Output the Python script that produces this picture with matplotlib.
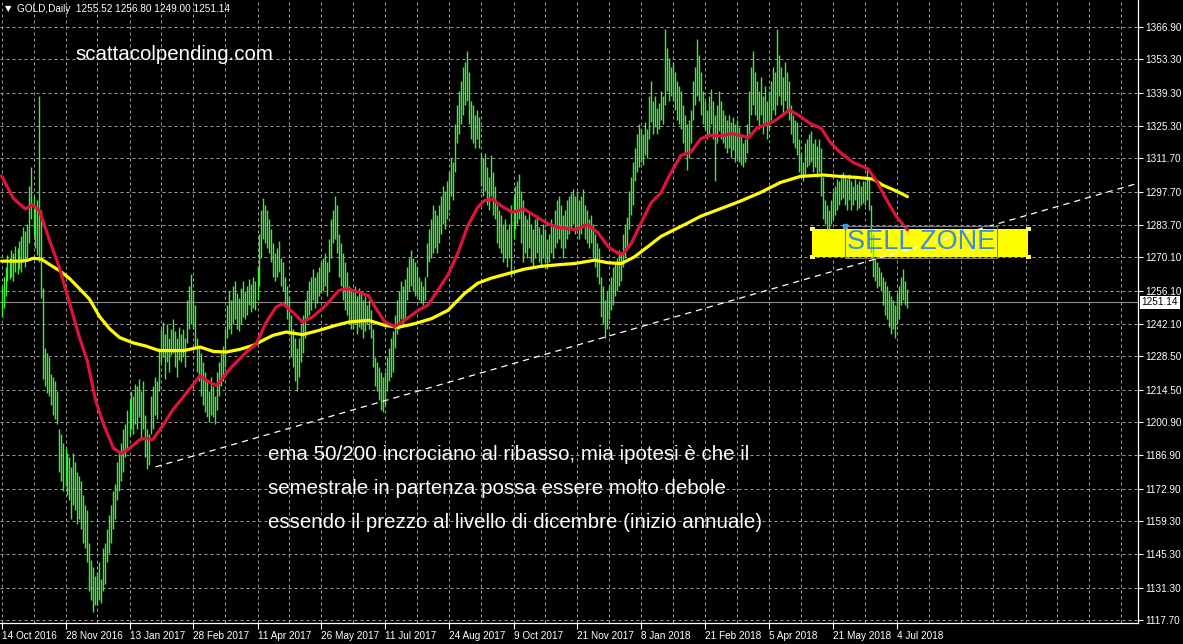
import numpy as np
import matplotlib
matplotlib.use("Agg")
import matplotlib.pyplot as plt
from matplotlib.ticker import MultipleLocator
from matplotlib.patches import Rectangle
import matplotlib.transforms as mtransforms

# daily bars (high / low), one value per bar
HIGHS = [
    1258, 1262, 1266, 1271, 1270, 1273, 1272, 1275, 1274, 1277, 1279, 1283, 1281, 1284, 1300, 1308,
    1296, 1292, 1294, 1338, 1290, 1257, 1232, 1230, 1228, 1221, 1220, 1218, 1214, 1198, 1196, 1192,
    1190, 1188, 1186, 1182, 1188, 1184, 1180, 1178, 1176, 1170, 1166, 1164, 1150, 1143, 1140, 1136,
    1138, 1142, 1135, 1148, 1150, 1156, 1162, 1166, 1172, 1175, 1184, 1188, 1192, 1198, 1200, 1206,
    1210, 1214, 1212, 1217, 1216, 1219, 1214, 1218, 1204, 1198, 1196, 1212, 1216, 1220, 1218, 1232,
    1240, 1243, 1238, 1242, 1236, 1240, 1244, 1239, 1236, 1241, 1238, 1240, 1236, 1252, 1258, 1263,
    1256, 1250, 1236, 1232, 1230, 1226, 1222, 1218, 1214, 1220, 1216, 1212, 1222, 1226, 1230, 1233,
    1240, 1250, 1256, 1252, 1258, 1260, 1255, 1253, 1257, 1260, 1256, 1258, 1261, 1259, 1262, 1260,
    1266, 1280, 1290, 1295, 1292, 1290, 1286, 1282, 1276, 1272, 1274, 1277, 1270, 1268, 1262, 1258,
    1254, 1246, 1240, 1236, 1232, 1236, 1242, 1246, 1252, 1256, 1260, 1262, 1265, 1262, 1264, 1266,
    1268, 1270, 1272, 1268, 1278, 1286, 1290, 1296, 1292, 1280, 1276, 1272, 1268, 1264, 1258, 1256,
    1256, 1258, 1254, 1257, 1255, 1252, 1254, 1250, 1252, 1248, 1240, 1228, 1226, 1224, 1222, 1220,
    1222, 1228, 1232, 1236, 1239, 1246, 1252, 1256, 1260, 1258, 1261, 1266, 1270, 1273, 1270, 1268,
    1266, 1262, 1260, 1258, 1262, 1276, 1282, 1286, 1292, 1290, 1288, 1292, 1296, 1300, 1298, 1302,
    1306, 1312, 1310, 1326, 1334, 1340, 1344, 1350, 1352, 1357, 1348, 1336, 1334, 1330, 1332, 1329,
    1314, 1312, 1314, 1308, 1304, 1313, 1306, 1300, 1292, 1290, 1288, 1284, 1286, 1282, 1284, 1292,
    1296, 1300, 1302, 1305, 1298, 1294, 1288, 1286, 1289, 1284, 1282, 1286, 1288, 1283, 1280, 1284,
    1282, 1278, 1280, 1286, 1284, 1290, 1294, 1296, 1292, 1288, 1290, 1294, 1296, 1297, 1299, 1296,
    1298, 1294, 1296, 1299, 1292, 1290, 1286, 1288, 1284, 1280, 1276, 1274, 1262, 1258, 1252, 1256,
    1258, 1262, 1266, 1268, 1270, 1273, 1272, 1280, 1284, 1287, 1298, 1304, 1310, 1316, 1322, 1326,
    1324, 1322, 1327, 1324, 1338, 1344, 1336, 1338, 1333, 1335, 1340, 1338, 1366, 1358, 1354, 1350,
    1352, 1348, 1344, 1342, 1340, 1334, 1330, 1326, 1328, 1332, 1344, 1350, 1362, 1355, 1348, 1340,
    1336, 1332, 1338, 1341, 1336, 1330, 1334, 1340, 1336, 1332, 1330, 1328, 1330, 1327, 1329, 1326,
    1328, 1325, 1322, 1318, 1320, 1326, 1340, 1350, 1357, 1348, 1344, 1340, 1346, 1338, 1342, 1336,
    1340, 1344, 1350, 1348, 1366, 1355, 1350, 1346, 1352, 1348, 1344, 1334, 1330, 1328, 1327, 1320,
    1314, 1310, 1318, 1320, 1322, 1323, 1318, 1320, 1317, 1320, 1316, 1304, 1294, 1292, 1290, 1294,
    1298, 1300, 1303, 1302, 1305, 1306, 1304, 1303, 1305, 1302, 1300, 1303, 1301, 1302, 1300, 1302,
    1302, 1308, 1304, 1292, 1280, 1270, 1268, 1266, 1264, 1262, 1260, 1258, 1256, 1254, 1252, 1250,
    1255, 1258, 1262, 1265, 1260, 1256.8,
]
LOWS = [
    1245, 1249, 1254, 1260, 1261, 1262, 1260, 1264, 1263, 1265, 1264, 1268, 1266, 1270, 1276, 1286,
    1279, 1274, 1271, 1268, 1253, 1219, 1216, 1213, 1212, 1208, 1204, 1202, 1200, 1180, 1176, 1172,
    1174, 1170, 1168, 1160, 1166, 1164, 1158, 1160, 1156, 1150, 1148, 1142, 1130, 1126, 1121, 1124,
    1124, 1126, 1125, 1130, 1133, 1142, 1146, 1150, 1156, 1160, 1168, 1172, 1176, 1180, 1186, 1190,
    1195, 1198, 1196, 1200, 1198, 1203, 1194, 1198, 1186, 1181, 1183, 1196, 1198, 1204, 1202, 1214,
    1226, 1228, 1219, 1226, 1222, 1229, 1230, 1224, 1220, 1227, 1226, 1228, 1224, 1234, 1240, 1242,
    1240, 1232, 1222, 1218, 1212, 1208, 1205, 1203, 1201, 1204, 1203, 1200, 1206, 1212, 1216, 1218,
    1224, 1236, 1240, 1238, 1242, 1244, 1240, 1239, 1242, 1245, 1244, 1246, 1250, 1247, 1249, 1248,
    1252, 1258, 1270, 1278, 1276, 1274, 1272, 1268, 1262, 1260, 1262, 1264, 1258, 1256, 1250, 1244,
    1238, 1228, 1224, 1218, 1214, 1220, 1226, 1230, 1236, 1244, 1246, 1248, 1252, 1249, 1251, 1254,
    1255, 1256, 1258, 1254, 1264, 1270, 1276, 1278, 1272, 1262, 1258, 1252, 1248, 1246, 1242, 1240,
    1240, 1242, 1238, 1241, 1240, 1236, 1239, 1242, 1240, 1236, 1224, 1216, 1214, 1210, 1206, 1205,
    1208, 1214, 1218, 1220, 1222, 1232, 1238, 1240, 1244, 1242, 1244, 1252, 1256, 1258, 1256, 1254,
    1254, 1252, 1251, 1250, 1252, 1262, 1268, 1270, 1272, 1274, 1272, 1276, 1280, 1284, 1282, 1286,
    1290, 1296, 1294, 1306, 1318, 1322, 1326, 1330, 1334, 1336, 1326, 1320, 1318, 1316, 1320, 1316,
    1300, 1296, 1298, 1292, 1290, 1296, 1288, 1286, 1276, 1274, 1272, 1268, 1270, 1266, 1270, 1262,
    1278, 1282, 1284, 1286, 1276, 1268, 1272, 1270, 1274, 1268, 1266, 1270, 1272, 1268, 1266, 1270,
    1268, 1265, 1268, 1272, 1270, 1274, 1276, 1278, 1274, 1270, 1274, 1278, 1280, 1282, 1284, 1280,
    1282, 1278, 1280, 1284, 1278, 1276, 1274, 1276, 1270, 1266, 1262, 1259, 1245, 1242, 1236, 1240,
    1244, 1248, 1250, 1254, 1256, 1258, 1260, 1266, 1270, 1273, 1282, 1288, 1292, 1302, 1306, 1308,
    1310, 1309, 1313, 1312, 1320, 1327, 1322, 1325, 1322, 1324, 1328, 1326, 1334, 1340, 1336, 1338,
    1336, 1332, 1328, 1326, 1324, 1318, 1314, 1307, 1312, 1318, 1328, 1334, 1338, 1336, 1330, 1326,
    1324, 1320, 1322, 1326, 1320, 1302, 1318, 1323, 1320, 1318, 1316, 1314, 1316, 1312, 1315, 1310,
    1312, 1310, 1309, 1308, 1310, 1314, 1322, 1330, 1334, 1330, 1328, 1324, 1330, 1322, 1326, 1320,
    1324, 1328, 1332, 1330, 1334, 1338, 1334, 1330, 1336, 1332, 1328, 1322, 1318, 1316, 1313, 1306,
    1304, 1302, 1305, 1308, 1309, 1310, 1306, 1308, 1304, 1306, 1296, 1286, 1284, 1282, 1282, 1284,
    1286, 1288, 1290, 1292, 1294, 1295, 1292, 1290, 1294, 1290, 1292, 1294, 1290, 1291, 1292, 1293,
    1292, 1294, 1290, 1272, 1262, 1260, 1257, 1258, 1256, 1250, 1246, 1244, 1241, 1238, 1240, 1236,
    1242, 1244, 1250, 1252, 1250, 1249,
]

# EMA 50 (red) and EMA 200 (yellow): bar index / price points
EMA50_X = [0, 6, 12, 15.5, 19, 24, 29, 34, 39, 43, 47, 51, 56, 60, 64, 69, 72, 75.5, 80.5, 85.5, 91,
           99.3, 102.6, 107.6, 114.2, 122.4, 127.4, 132.4, 137.3, 140.6, 145.6, 150.5, 155.5, 162.1,
           168.7, 172.9, 178.6, 183.6, 186.7, 191.7, 196.6, 201.6, 208.3, 213.2, 218.2, 223.2, 228.2,
           233.1, 238.1, 241.4, 245.6, 249.7, 255.5, 261.3, 268, 273.8, 278.7, 281.7, 286.7, 293.3,
           298.3, 303.3, 308.2, 310.7, 314.9, 319.8, 324.8, 329.8, 333.9, 339.7, 344.7, 349.7, 354.7,
           359.6, 364.6, 369.4, 373.6, 377.7, 386, 394, 398.4, 404.2, 410, 414.2, 419.2, 425.8, 433.3,
           437.4, 442.4, 447.3, 453]
EMA50_Y = [1304.3, 1294.8, 1290.4, 1292.2, 1289.7, 1277.3, 1265.6, 1251, 1236.4, 1226.2, 1210.2, 1200,
           1189.8, 1187.6, 1189.8, 1193.4, 1194.1, 1193.4, 1199.2, 1205.8, 1211.5,
           1220.4, 1218.3, 1216.2, 1223.2, 1230.3, 1233.8, 1242.9, 1249.2, 1250.6, 1247.1, 1242.9, 1245,
           1249.9, 1256.2, 1256.9, 1255.5, 1253.9, 1249.3, 1242.9, 1241, 1243.6, 1247.8, 1250, 1256.3,
           1262.7, 1271.9, 1283.3, 1291.1, 1293.9, 1294.6, 1291.8, 1289, 1290.4, 1286.8, 1284, 1282.6,
           1282.4, 1281.7, 1283.8, 1280.3, 1274.6, 1271.8, 1271.5, 1276, 1284.5, 1293, 1297.3, 1304.4,
           1312.9, 1314.3, 1320, 1321.4, 1321.1, 1322.1, 1321.4, 1320.3, 1324.5, 1327.1, 1332, 1329.9,
           1326.4, 1324.2, 1318.6, 1314.3, 1310, 1307.2, 1302.3, 1294.5, 1287.4, 1281.6]
EMA200_X = [0, 9.4, 12.7, 16, 20, 24, 29, 34, 39, 44, 49, 54, 59, 65.6, 72.2, 78.8, 85.5, 91.2, 99.3,
            106, 112.5, 119.1, 125.8, 130.7, 135.7, 142.3, 150.5, 158.8, 167.1, 173.7, 183.6, 191.7,
            198.3, 206.6, 214.9, 223.2, 231.5, 238.1, 244.7, 253, 261.3, 269.6, 278.7, 286.7, 296.6,
            303.3, 309.9, 316.5, 323.2, 329.8, 336.4, 343.1, 349.7, 356.3, 362.9, 369.4, 379.4, 389.3,
            399.3, 410.9, 419.2, 427.4, 435.7, 440.7, 447.3, 453]
EMA200_Y = [1268.5, 1268.5, 1268.8, 1269.7, 1269.3, 1267.1, 1264.5, 1261.2, 1256.9, 1252.5, 1245.2,
            1240.1, 1236.4, 1234.2, 1232.8, 1230.9, 1230.9, 1230.9, 1232.4, 1230.5, 1230.3, 1231.4,
            1233.1, 1235.2, 1237.3, 1238.7, 1237.6, 1239.4, 1241.5, 1242.9, 1243.6, 1241.5, 1240.7,
            1242.2, 1244.3, 1247.8, 1254.9, 1259.2, 1261.3, 1263.2, 1265.1, 1266.3, 1267, 1267.5,
            1268.9, 1267.8, 1267.5, 1270.3, 1274.6, 1278.9, 1281.7, 1284.5, 1287.4, 1289.5, 1291.6,
            1293.7, 1297.3, 1301.5, 1304.1, 1304.7, 1304.1, 1303.7, 1303, 1300.4, 1298, 1295.6]

# trend line and sell zone (bar index / price)
TREND_X = [77, 568.5]
TREND_Y = [1182, 1301.3]
ZONE_X = [405.5, 513.5]
ZONE_Y = [1270.2, 1282.0]
ZONE_TEXT_X = [422, 498]
ZONE_TEXT_Y = [1269.8, 1283.3]

LAST_PRICE = 1251.14
DATE_LABELS = ['14 Oct 2016', '28 Nov 2016', '13 Jan 2017', '28 Feb 2017', '11 Apr 2017',
               '26 May 2017', '11 Jul 2017', '24 Aug 2017', '9 Oct 2017', '21 Nov 2017',
               '8 Jan 2018', '21 Feb 2018', '5 Apr 2018', '21 May 2018', '4 Jul 2018']
PRICE_TICKS = [1366.90, 1353.30, 1339.30, 1325.30, 1311.70, 1297.70, 1283.70, 1270.10, 1256.10,
               1242.10, 1228.50, 1214.50, 1200.90, 1186.90, 1172.90, 1159.30, 1145.30, 1131.30,
               1117.70]

NOTE_LINES = ['ema 50/200 incrociano al ribasso, mia ipotesi è che il',
              'semestrale in partenza possa essere molto debole',
              'essendo il prezzo al livello di dicembre (inizio annuale)']

SMALL_FONT = 'Liberation Sans'


def main():
    W, H = 1183, 644
    fig = plt.figure(figsize=(W / 100, H / 100), dpi=100, facecolor='black')
    ax = fig.add_axes([0, 21 / H, 1138 / W, 623 / H], facecolor='black')

    # 2 px per bar, bar centres on pixel centres
    ax.set_xlim(-0.75, 568.25)
    ax.set_ylim(1116.4, 1378.25)

    # grid
    grid_kw = dict(color='#9a9a9a', lw=0.72, linestyle=(0, (3, 3)))
    ax.xaxis.set_minor_locator(MultipleLocator(16))
    ax.grid(True, axis='x', which='both', **grid_kw)
    ax.grid(True, axis='y', which='major', **grid_kw)
    ax.set_axisbelow(True)

    # sell zone box (under the bars)
    ax.add_patch(Rectangle((ZONE_X[0], ZONE_Y[0]), ZONE_X[1] - ZONE_X[0], ZONE_Y[1] - ZONE_Y[0],
                           facecolor='#ffff00', edgecolor='none', zorder=2))

    # bars
    x = np.arange(len(HIGHS))
    ax.vlines(x, LOWS, HIGHS, color='#3aee3a', lw=1.0, zorder=3)

    # moving averages
    ax.plot(EMA200_X, EMA200_Y, color='#ffff00', lw=2.3, zorder=4, solid_capstyle='round')
    ax.plot(EMA50_X, EMA50_Y, color='#dc143c', lw=2.3, zorder=5, solid_capstyle='round')

    # trend line
    ax.plot(TREND_X, TREND_Y, color='white', lw=0.9, linestyle=(0, (5, 4)), zorder=6)

    # current price line
    ax.axhline(LAST_PRICE, color='#8c8c8c', lw=0.8, zorder=2.5)

    # sell zone text + selection box and handles
    ax.add_patch(Rectangle((ZONE_TEXT_X[0], ZONE_TEXT_Y[0]), ZONE_TEXT_X[1] - ZONE_TEXT_X[0],
                           ZONE_TEXT_Y[1] - ZONE_TEXT_Y[0], facecolor='none',
                           edgecolor='#7a7a7a', lw=0.8, zorder=7))
    ax.text(np.mean(ZONE_TEXT_X), np.mean(ZONE_TEXT_Y), 'SELL ZONE', color='#3a8fd6',
            fontsize=19.5, family='Liberation Sans', ha='center', va='center', zorder=8)
    hx = [ZONE_X[0], ZONE_X[0], ZONE_X[1], ZONE_X[1]]
    hy = [ZONE_Y[0], ZONE_Y[1], ZONE_Y[0], ZONE_Y[1]]
    ax.scatter(hx, hy, marker='s', s=10, color='#ffff66', edgecolors='none', zorder=8)
    ax.scatter([ZONE_TEXT_X[0]], [ZONE_TEXT_Y[1]], marker='s', s=5, color='#4a90e2', zorder=8)

    # axes style
    for side in ['left', 'top']:
        ax.spines[side].set_visible(False)
    for side in ['right', 'bottom']:
        ax.spines[side].set_color('white')
        ax.spines[side].set_linewidth(0.9)

    ax.yaxis.tick_right()
    ax.set_yticks(PRICE_TICKS)
    ax.set_yticklabels(['%.2f' % p for p in PRICE_TICKS], family=SMALL_FONT)
    ax.tick_params(axis='y', colors='white', labelsize=7.2, length=3.5, width=0.8, pad=1.5)

    ax.set_xticks(np.arange(len(DATE_LABELS)) * 32)
    ax.set_xticklabels(DATE_LABELS, family=SMALL_FONT)
    for lbl in ax.get_xticklabels():
        lbl.set_horizontalalignment('left')
    ax.tick_params(axis='x', which='major', colors='white', labelsize=7.2, length=4, width=0.8, pad=2)
    ax.tick_params(axis='x', which='minor', length=0)

    # current price label on the scale
    trans = mtransforms.blended_transform_factory(ax.transAxes, ax.transData)
    ax.text(1.003, LAST_PRICE, '%.2f' % LAST_PRICE, transform=trans, color='black', fontsize=7.2,
            family=SMALL_FONT, va='center', ha='left', zorder=10, clip_on=False,
            bbox=dict(facecolor='white', edgecolor='none', pad=1.2))

    # header and notes
    fig.text(5 / W, 1 - 9 / H, '\u25bc', color='white', fontsize=6, va='center', ha='left')
    fig.text(17 / W, 1 - 9 / H, 'GOLD,Daily  1255.52 1256.80 1249.00 1251.14', color='white',
             fontsize=7.2, family=SMALL_FONT, va='center', ha='left')
    fig.text(75 / W, 1 - 55 / H, 'scattacolpending.com', color='white', fontsize=14.8,
             family='Liberation Sans', va='center', ha='left')
    for i, line in enumerate(NOTE_LINES):
        fig.text(268 / W, 1 - (455 + 33.5 * i) / H, line, color='white', fontsize=14.8,
                 family='Liberation Sans', va='center', ha='left')

    fig.savefig('out.png', dpi=100, facecolor='black')


if __name__ == "__main__":
    main()
